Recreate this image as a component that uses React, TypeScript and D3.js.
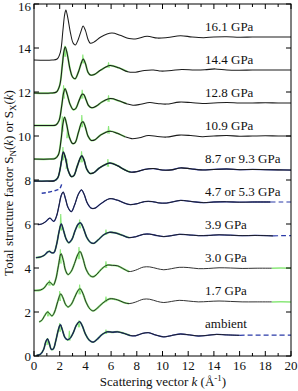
import React from "react";
import * as d3 from "d3";

type Pt = [number, number];
type Spike = [number, number, number];

// ---------- data ----------
const pressureLabels = ["ambient", "1.7 GPa", "3.0 GPa", "3.9 GPa", "4.7 or 5.3 GPa", "8.7 or 9.3 GPa", "10.9 GPa", "12.8 GPa", "14.4 GPa", "16.1 GPa"];
const offsets = [0, 1.5, 3, 4.5, 6, 7.5, 9, 10.5, 12, 13.5];
const kTicksMajor = [0, 2, 4, 6, 8, 10, 12, 14, 16, 18, 20];
const kTicksMinor = [1, 3, 5, 7, 9, 11, 13, 15, 17, 19];
const yTicks = [0, 2, 4, 6, 8, 10, 12, 14, 16];

const sAmbient: Pt[] = [[0.2, 0.03], [0.5, 0.08], [0.75, 0.3], [0.92, 0.65], [1.05, 0.78], [1.18, 0.6], [1.35, 0.3], [1.5, 0.32], [1.7, 0.7], [1.9, 1.2], [2.05, 1.42], [2.2, 1.2], [2.4, 0.85], [2.6, 0.74], [2.8, 0.8], [3.05, 1.05], [3.3, 1.4], [3.55, 1.56], [3.75, 1.38], [4.0, 1.0], [4.3, 0.72], [4.6, 0.63], [4.9, 0.75], [5.3, 0.98], [5.7, 1.1], [6.1, 1.08], [6.5, 1.1], [7.0, 1.03], [7.5, 0.93], [7.9, 0.92], [8.4, 1.02], [8.9, 1.06], [9.5, 0.95], [10.1, 0.87], [10.7, 0.93], [11.4, 1.0], [12.1, 0.96], [12.8, 0.91], [13.5, 0.94], [14.2, 0.98], [15.0, 0.96], [16.0, 0.94]];
const s17: Pt[] = [[0.4, 0.05], [0.6, 0.12], [0.85, 0.35], [1.05, 0.5], [1.22, 0.42], [1.4, 0.32], [1.6, 0.5], [1.85, 0.98], [2.08, 1.32], [2.25, 1.15], [2.45, 0.85], [2.65, 0.73], [2.9, 0.85], [3.15, 1.15], [3.4, 1.45], [3.58, 1.56], [3.8, 1.35], [4.05, 0.95], [4.35, 0.64], [4.6, 0.55], [4.9, 0.66], [5.3, 0.88], [5.9, 1.1], [6.5, 1.05], [7.0, 0.93], [7.4, 0.88], [7.9, 0.95], [8.5, 1.08], [9.0, 1.08], [9.6, 0.98], [10.1, 0.93], [10.7, 0.98], [11.3, 1.03], [12.0, 1.0], [12.8, 0.96], [13.6, 0.98], [14.4, 1.0], [15.3, 0.98], [16.2, 0.96], [17.2, 0.96], [18.5, 0.96]];
const s30: Pt[] = [[0, -0.02], [0.5, 0.0], [0.8, 0.1], [1.05, 0.3], [1.2, 0.36], [1.35, 0.3], [1.5, 0.22], [1.7, 0.5], [1.9, 1.1], [2.1, 1.65], [2.28, 1.35], [2.45, 0.9], [2.65, 0.7], [2.9, 0.85], [3.15, 1.2], [3.4, 1.6], [3.58, 1.75], [3.8, 1.45], [4.05, 0.95], [4.35, 0.66], [4.6, 0.6], [4.9, 0.72], [5.3, 0.98], [5.7, 1.13], [6.1, 1.12], [6.5, 1.1], [7.0, 0.95], [7.4, 0.84], [7.9, 0.9], [8.5, 1.04], [9.0, 1.05], [9.6, 0.97], [10.1, 0.92], [10.7, 0.97], [11.3, 1.03], [12.0, 1.02], [12.8, 0.97], [13.6, 0.98], [14.4, 1.01], [15.3, 1.0], [16.2, 0.98], [17.2, 0.99], [18.5, 0.99]];
const s39: Pt[] = [[0.15, -0.03], [0.5, 0.0], [0.8, 0.08], [1.05, 0.22], [1.2, 0.26], [1.35, 0.2], [1.55, 0.2], [1.75, 0.55], [1.95, 1.15], [2.12, 1.5], [2.3, 1.2], [2.5, 0.82], [2.7, 0.65], [2.95, 0.8], [3.2, 1.2], [3.45, 1.5], [3.62, 1.55], [3.85, 1.3], [4.1, 0.9], [4.4, 0.66], [4.65, 0.62], [5.0, 0.78], [5.4, 1.0], [5.85, 1.12], [6.3, 1.1], [6.9, 0.98], [7.4, 0.88], [7.9, 0.92], [8.5, 1.03], [9.0, 1.04], [9.6, 0.97], [10.1, 0.93], [10.7, 0.97], [11.3, 1.03], [12.0, 1.01], [12.8, 0.97], [13.6, 0.98], [14.4, 1.01], [15.3, 0.99], [16.2, 0.97], [17.2, 0.98], [18.6, 0.96]];
const s47: Pt[] = [[0.3, -0.03], [0.6, 0.0], [0.9, 0.1], [1.1, 0.22], [1.25, 0.27], [1.4, 0.18], [1.55, 0.12], [1.75, 0.35], [1.95, 0.85], [2.12, 1.3], [2.27, 1.45], [2.45, 1.15], [2.65, 0.75], [2.9, 0.56], [3.15, 0.85], [3.45, 1.35], [3.7, 1.55], [3.9, 1.35], [4.15, 0.95], [4.45, 0.72], [4.75, 0.72], [5.2, 0.92], [5.9, 1.15], [6.5, 1.08], [7.0, 0.96], [7.5, 0.88], [8.0, 0.92], [8.6, 1.02], [9.2, 1.02], [9.7, 0.96], [10.3, 0.95], [11.4, 1.07], [12.3, 1.02], [13.2, 0.97], [14.0, 1.0], [15.0, 1.01], [16.0, 0.99], [17.0, 1.0], [18.4, 1.0]];
const s87: Pt[] = [[0, 0.45], [1.0, 0.45], [1.6, 0.47], [1.85, 0.6], [2.0, 0.9], [2.15, 1.4], [2.28, 1.77], [2.45, 1.5], [2.65, 0.95], [2.9, 0.66], [3.1, 0.7], [3.35, 1.1], [3.6, 1.5], [3.72, 1.6], [3.9, 1.4], [4.1, 1.0], [4.35, 0.8], [4.65, 0.83], [5.1, 1.05], [5.9, 1.27], [6.5, 1.15], [7.0, 0.98], [7.5, 0.86], [8.0, 0.88], [8.6, 0.98], [9.3, 1.02], [10.0, 0.95], [10.7, 0.96], [11.4, 1.05], [12.2, 1.01], [13.0, 0.96], [14, 0.98], [15, 1.0], [16, 0.97], [17, 0.98], [18, 0.97], [19, 0.96], [20, 0.95]];
const s109: Pt[] = [[0, -0.05], [1.2, -0.05], [1.65, -0.02], [1.9, 0.15], [2.1, 0.8], [2.25, 1.55], [2.38, 1.85], [2.55, 1.5], [2.75, 0.95], [3.0, 0.66], [3.2, 0.7], [3.45, 1.15], [3.7, 1.6], [3.82, 1.65], [4.0, 1.4], [4.2, 1.0], [4.45, 0.8], [4.75, 0.83], [5.2, 1.05], [5.9, 1.22], [6.5, 1.12], [7.1, 0.96], [7.6, 0.88], [8.2, 0.92], [8.9, 1.02], [9.6, 0.98], [10.3, 0.95], [11.3, 1.04], [12.2, 1.02], [13.1, 0.97], [14.0, 1.0], [15, 1.02], [16, 0.99], [17, 1.0], [18, 1.01], [19, 1.0], [20, 1.0]];
const s128: Pt[] = [[0, -0.02], [1.3, -0.02], [1.7, 0.0], [1.95, 0.2], [2.15, 0.85], [2.3, 1.45], [2.42, 1.65], [2.58, 1.4], [2.8, 0.95], [3.05, 0.7], [3.25, 0.75], [3.5, 1.1], [3.75, 1.4], [3.88, 1.38], [4.05, 1.15], [4.25, 0.88], [4.5, 0.78], [4.85, 0.86], [5.3, 1.05], [5.95, 1.2], [6.6, 1.1], [7.2, 0.97], [7.7, 0.9], [8.3, 0.94], [9.0, 1.02], [9.7, 0.97], [10.3, 0.95], [11.3, 1.04], [12.2, 1.02], [13.1, 0.98], [14.0, 1.0], [15, 1.02], [16, 1.0], [17, 1.0], [18, 1.01], [19, 1.0], [20, 1.0]];
const s144: Pt[] = [[0, -0.05], [1.3, -0.05], [1.75, 0.0], [2.0, 0.3], [2.2, 1.2], [2.33, 1.85], [2.43, 2.05], [2.58, 1.75], [2.8, 1.05], [3.0, 0.68], [3.2, 0.6], [3.45, 0.9], [3.7, 1.35], [3.83, 1.5], [4.0, 1.3], [4.2, 0.9], [4.4, 0.77], [4.7, 0.8], [5.2, 1.0], [5.9, 1.2], [6.6, 1.1], [7.3, 0.92], [7.9, 0.9], [8.6, 0.98], [9.3, 1.0], [9.9, 0.95], [10.7, 0.98], [11.5, 1.02], [12.5, 1.0], [13.3, 1.01], [14.1, 1.05], [15, 1.0], [16, 0.99], [17, 1.0], [18, 1.0], [19, 1.0], [20, 1.0]];
const s161: Pt[] = [[0, -0.05], [1.4, -0.05], [1.8, 0.0], [2.05, 0.3], [2.25, 1.3], [2.38, 2.0], [2.48, 2.23], [2.62, 1.9], [2.85, 1.15], [3.05, 0.72], [3.22, 0.64], [3.45, 0.9], [3.68, 1.3], [3.82, 1.5], [4.0, 1.3], [4.2, 0.9], [4.38, 0.72], [4.7, 0.78], [5.2, 1.0], [6.05, 1.18], [6.7, 1.08], [7.4, 0.93], [8.0, 0.92], [8.8, 1.03], [9.6, 0.95], [10.4, 0.98], [11.4, 1.06], [12.3, 1.0], [13.2, 0.97], [14, 1.0], [15, 1.01], [16, 0.99], [17, 1.0], [18, 1.0], [19, 1.0], [20, 1.0]];

const mainCurves: Pt[][] = [sAmbient, s17, s30, s39, s47, s87, s109, s128, s144, s161];

// blue (neutron) dashed tails and low-k part
const ambientBlueTail: Pt[] = [[16.0, 0.94], [17, 0.95], [18, 0.95], [19, 0.95], [20, 0.95]];
const p39BlueTail: Pt[] = [[18.6, 0.96], [19.3, 0.97], [20, 0.97]];
const p47BlueTail: Pt[] = [[18.4, 1.0], [19.2, 1.0], [20, 1.0]];
const p87BlueLowK: Pt[] = [[0.6, -0.1], [1.0, -0.07], [1.4, -0.02], [1.8, 0.05], [2.0, 0.1], [2.15, 0.3]];
// green (x-ray) tails
const p17GreenTail: Pt[] = [[18.5, 0.96], [19.2, 0.97], [20, 0.96]];
const p30GreenTail: Pt[] = [[18.5, 0.99], [19.2, 1.0], [20, 0.99]];

// green spikes: [k, low S, high S]
const spikesAmbient: Spike[] = [[1.05, 0.5, 0.8], [2.0, 1.1, 1.5], [2.75, 0.7, 1.15], [3.5, 1.3, 1.62], [5.6, 1.0, 1.2]];
const spikes17: Spike[] = [[1.1, 0.3, 0.55], [2.0, 1.0, 1.45], [3.55, 1.3, 1.75], [5.6, 0.95, 1.2]];
const spikes30: Spike[] = [[1.2, 0.2, 0.45], [2.05, 1.2, 1.85], [3.5, 1.4, 1.95], [5.6, 1.0, 1.3]];
const spikes39: Spike[] = [[2.08, 1.2, 1.95], [3.55, 1.3, 1.7], [5.6, 1.0, 1.25]];
const spikes87: Spike[] = [[2.25, 1.4, 2.0], [2.55, 1.0, 1.45], [3.7, 1.3, 1.8], [5.75, 1.1, 1.45]];
const spikes109: Spike[] = [[2.2, 1.2, 1.9], [2.6, 0.9, 1.3], [3.72, 1.4, 1.95], [5.8, 1.1, 1.45]];
const spikes128: Spike[] = [[2.3, 1.2, 1.8], [3.75, 1.2, 1.6], [5.8, 1.05, 1.35]];
const spikes144: Spike[] = [[2.4, 1.6, 2.1], [3.8, 1.3, 1.7], [5.8, 1.1, 1.35]];

const spikeSets: { idx: number; spikes: Spike[] }[] = [
  { idx: 0, spikes: spikesAmbient }, { idx: 1, spikes: spikes17 }, { idx: 2, spikes: spikes30 },
  { idx: 3, spikes: spikes39 }, { idx: 5, spikes: spikes87 }, { idx: 6, spikes: spikes109 },
  { idx: 7, spikes: spikes128 }, { idx: 8, spikes: spikes144 },
];
const greenHaloIdx = [0, 1, 2, 3, 5, 6, 7, 8];
const blueUnderIdx = [0, 3, 4, 5];

// ---------- layout ----------
const W = 298, H = 391;
const X0 = 34, X1 = 291, Y0 = 356, Y1 = 4;
const FONT = "'Liberation Serif', 'Times New Roman', Times, serif";
const BLACK = "#1c1c1c", GREEN = "#8be87a", BLUE = "#2a3aa8";
const txt: React.CSSProperties = { fontFamily: FONT, fontSize: 13, fill: "#111" };

export default function App() {
  const x = d3.scaleLinear().domain([0, 20]).range([X0, X1]);
  const y = d3.scaleLinear().domain([0, 16]).range([Y0, Y1]);
  const lineFor = (off: number) =>
    d3.line<Pt>().x((d) => x(d[0])).y((d) => y(d[1] + off)).curve(d3.curveCatmullRom.alpha(0.5));

  const spikePath = (s: Spike, off: number) =>
    `M${x(s[0] - 0.05)},${y(s[1] + off)}L${x(s[0])},${y(s[2] + off)}L${x(s[0] + 0.06)},${y(s[1] + off)}`;

  return (
    <svg width={W} height={H} style={{ position: "absolute", left: 0, top: 0, background: "#fff" }}>
      <rect x={0} y={0} width={W} height={H} fill="#fff" />
      {/* green halos */}
      {greenHaloIdx.map((i) => (
        <path key={"gh" + i} d={lineFor(offsets[i])(mainCurves[i].filter((p) => p[0] <= 7.5)) || ""} fill="none" stroke={GREEN} strokeWidth={1.9} />
      ))}
      {spikeSets.map((ss) =>
        ss.spikes.map((s, j) => (
          <path key={"sp" + ss.idx + "-" + j} d={spikePath(s, offsets[ss.idx])} fill="none" stroke={GREEN} strokeWidth={1.1} />
        ))
      )}
      <path d={lineFor(offsets[1])(p17GreenTail) || ""} fill="none" stroke={GREEN} strokeWidth={1.5} />
      <path d={lineFor(offsets[2])(p30GreenTail) || ""} fill="none" stroke={GREEN} strokeWidth={1.5} />
      {/* blue under */}
      {blueUnderIdx.map((i) => (
        <path key={"bu" + i} d={lineFor(offsets[i])(mainCurves[i]) || ""} fill="none" stroke={BLUE} strokeWidth={1.3} />
      ))}
      {/* black main */}
      {mainCurves.map((c, i) => (
        <path key={"m" + i} d={lineFor(offsets[i])(c) || ""} fill="none" stroke={BLACK} strokeWidth={i >= 5 ? 1.05 : 0.9} />
      ))}
      {/* blue dashed */}
      <path d={lineFor(offsets[0])(ambientBlueTail) || ""} fill="none" stroke={BLUE} strokeWidth={1.2} strokeDasharray="5,3" />
      <path d={lineFor(offsets[3])(p39BlueTail) || ""} fill="none" stroke={BLUE} strokeWidth={1.2} strokeDasharray="5,3" />
      <path d={lineFor(offsets[4])(p47BlueTail) || ""} fill="none" stroke={BLUE} strokeWidth={1.2} strokeDasharray="5,3" />
      <path d={lineFor(offsets[5])(p87BlueLowK) || ""} fill="none" stroke={BLUE} strokeWidth={1.4} strokeDasharray="4,2.5" />

      {/* frame */}
      <rect x={X0} y={Y1} width={X1 - X0} height={Y0 - Y1} fill="none" stroke="#000" strokeWidth={1} />
      {/* ticks */}
      {kTicksMajor.map((k) => (
        <g key={"kt" + k}>
          <line x1={x(k)} x2={x(k)} y1={Y0} y2={Y0 - 5} stroke="#000" />
          <line x1={x(k)} x2={x(k)} y1={Y1} y2={Y1 + 5} stroke="#000" />
          <text x={x(k)} y={370} textAnchor="middle" style={txt}>{k}</text>
        </g>
      ))}
      {kTicksMinor.map((k) => (
        <g key={"km" + k}>
          <line x1={x(k)} x2={x(k)} y1={Y0} y2={Y0 - 3} stroke="#000" />
          <line x1={x(k)} x2={x(k)} y1={Y1} y2={Y1 + 3} stroke="#000" />
        </g>
      ))}
      {yTicks.map((v) => (
        <g key={"yt" + v}>
          <line x1={X0} x2={X0 + 5} y1={y(v)} y2={y(v)} stroke="#000" />
          <line x1={X1} x2={X1 - 5} y1={y(v)} y2={y(v)} stroke="#000" />
          <text x={31} y={Math.max(y(v) + 4.5, 11)} textAnchor="end" style={txt}>{v}</text>
        </g>
      ))}
      {/* series labels */}
      {pressureLabels.map((lab, i) => (
        <text key={"lab" + i} x={205} y={y(offsets[i] + 1.47) + 4.5} style={txt}>{lab}</text>
      ))}
      {/* axis titles */}
      <text x={163} y={386} textAnchor="middle" style={txt}>
        Scattering vector <tspan fontStyle="italic">k</tspan> (Å<tspan dy={-5} fontSize={9}>-1</tspan><tspan dy={5}>)</tspan>
      </text>
      <text transform="translate(13,183) rotate(-90)" textAnchor="middle" style={txt}>
        Total structure factor S<tspan dy={3} fontSize={9}>N</tspan><tspan dy={-3}>(</tspan><tspan fontStyle="italic">k</tspan>) or S<tspan dy={3} fontSize={9}>X</tspan><tspan dy={-3}>(</tspan><tspan fontStyle="italic">k</tspan>)
      </text>
    </svg>
  );
}
